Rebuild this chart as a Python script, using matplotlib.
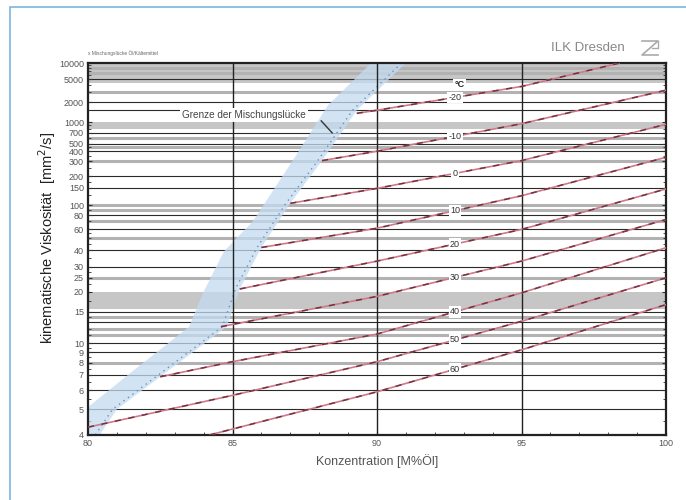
import numpy as np
import matplotlib.pyplot as plt
from matplotlib.patches import Rectangle
from matplotlib.lines import Line2D

plt.rcParams['font.family'] = ['Liberation Sans', 'DejaVu Sans']

# isothermen: konzentration [M% Oel] -> kin. viskositaet [mm2/s]
temps = [-20, -10, 0, 10, 20, 30, 40, 50, 60]
iso_conc = [
    [89.3, 90, 95, 98.4],
    [88.1, 90, 95, 100],
    [87.0, 90, 95, 100],
    [86.0, 90, 95, 100],
    [85.25, 90, 95, 100],
    [84.6, 90, 95, 100],
    [82.5, 85, 90, 95, 100],
    [80, 85, 90, 95, 100],
    [84.2, 90, 95, 100],
]
iso_visc = [
    [1350, 1505, 3700, 10000],
    [306, 400, 945, 3190],
    [104, 148, 306, 926],
    [42, 61, 124, 336],
    [20.9, 32.9, 59.5, 146],
    [12.3, 18.7, 32.9, 73],
    [6.87, 8.08, 11.2, 19.7, 41.8],
    [4.27, 5.7, 8.08, 13.2, 24.9],
    [4.0, 5.9, 9.25, 16.6],
]

# mischungsluecke (band)
gap_left_c = [80, 80, 81.3, 83.5, 84.0, 84.7, 85.7, 87.2, 88.3, 89.8]
gap_left_v = [4.0, 5.1, 6.87, 12.3, 20, 39, 70, 354, 1800, 10000]
gap_right_c = [91.0, 89.3, 88.1, 87.0, 86.0, 85.25, 84.8, 82.5, 81.0, 80.4]
gap_right_v = [10000, 1500, 306, 104, 42, 20.9, 12.3, 6.87, 5.0, 4.0]

yticks = [4, 5, 6, 7, 8, 9, 10, 15, 20, 25, 30, 40, 60, 80, 100, 150, 200,
          300, 400, 500, 700, 1000, 2000, 5000, 10000]
yminor = [4.5, 5.5, 6.5, 7.5, 8.5, 9.5, 11, 12, 13, 14, 17.5, 22.5, 27.5, 35,
          45, 50, 55, 70, 90, 125, 175, 250, 350, 450, 600, 800, 900, 1500,
          3000, 4000, 6000, 7000, 8000, 9000]
black_lines = [5000, 2000, 1500, 700, 500, 400, 200, 150, 80, 60, 40, 30,
               15, 13, 10, 9, 7, 6, 5]
gray_lines = [8000, 6500, 3000, 600, 450, 300, 100, 90, 70, 50, 25, 14, 12,
              11, 8]
gray_bands = [(4200, 10000), (800, 1000), (15.5, 20)]


def fwd(v):
    v = np.maximum(np.asarray(v, dtype=float), 0.6)
    return np.log10(np.log10(v + 0.5))


def inv(f):
    return 10 ** (10 ** np.asarray(f, dtype=float)) - 0.5


fig = plt.figure(figsize=(6.86, 5.0), dpi=100)
ax = fig.add_axes([88 / 686, 1 - 435 / 500, 578 / 686, 372 / 500])
ax.set_yscale('function', functions=(fwd, inv))
ax.set_xlim(80, 100)
ax.set_ylim(4, 10000)

for lo, hi in gray_bands:
    ax.axhspan(lo, hi, color='#c6c6c6', lw=0, zorder=0.5)
for v in gray_lines:
    ax.axhline(v, color='#b2b2b2', lw=2.2, zorder=1)
for v in black_lines:
    ax.axhline(v, color='#2a2a2a', lw=0.8, zorder=1.2)

# band
bx = gap_left_c + gap_right_c
by = gap_left_v + gap_right_v
ax.fill(bx, by, color='#c4dcf1', alpha=0.75, lw=0, zorder=2)
ax.plot(np.array(gap_right_c) - 0.15, gap_right_v, color='#6d8fb5', lw=1,
        ls=(0, (1, 3)), zorder=2.2)

for c in [85, 90, 95]:
    ax.axvline(c, color='#222222', lw=1.0, zorder=2.5)

# isothermen
lbl_c = 92.7
for t, cs, vs in zip(temps, iso_conc, iso_visc):
    ax.plot(cs, vs, color='#cf7a88', lw=1.2, zorder=3, solid_capstyle='butt')
    ax.plot(cs, vs, color='#5a2030', lw=1.1, ls=(0, (4, 5)), alpha=0.8,
            zorder=3.1)
    fv = np.interp(lbl_c, cs, fwd(vs))
    ax.text(lbl_c, inv(fv), '%d' % t, fontsize=6.5, color='#333333',
            ha='center', va='center', zorder=4,
            bbox=dict(boxstyle='square,pad=0.15', fc='white', ec='none'))
ax.text(lbl_c + 0.15, 3950, '°C', fontsize=6.5, color='#222222',
        ha='center', va='center', zorder=4, fontweight='bold',
        bbox=dict(boxstyle='square,pad=0.15', fc='white', ec='none'))

ax.text(85.4, 1260, 'Grenze der Mischungslücke', fontsize=7.2,
        color='#444444', ha='center', va='center', zorder=4,
        bbox=dict(boxstyle='square,pad=0.2', fc='white', ec='none'))
ax.plot([88.07, 88.45], [1040, 700], color='#333333', lw=1.0, zorder=3.5)

ax.set_yticks(yticks)
ax.set_yticklabels([str(v) for v in yticks])
ax.set_yticks(yminor, minor=True)
ax.set_yticklabels([], minor=True)
ax.set_xticks([80, 85, 90, 95, 100])
ax.set_xticks(np.arange(80, 101, 1), minor=True)
ax.tick_params(which='both', direction='in', right=True, top=False,
               labelsize=6.5, labelcolor='#555555', color='#333333')
ax.tick_params(which='major', length=3, pad=3)
ax.tick_params(which='minor', length=2.5)
for s in ax.spines.values():
    s.set_linewidth(1.6)
    s.set_color('#222222')

ax.set_xlabel('Konzentration [M%Öl]', fontsize=9, color='#555555',
              labelpad=4)
ax.set_ylabel('kinematische Viskosität  [mm$^2$/s]', fontsize=10.5,
              color='#222222')
ax.yaxis.set_label_coords(-0.052, 0.53)

fig.text(88 / 686, 1 - 53 / 500, 'x Mischungslücke Öl/Kältemittel',
         fontsize=3.5, color='#666666', va='center')
fig.text(588 / 686, 1 - 48 / 500, 'ILK Dresden', fontsize=9.5,
         color='#888888', ha='center', va='center')
# logo
lx = [642, 658, 642, 658]
ly = [41, 41, 55, 55]
fig.add_artist(Line2D([x / 686 for x in lx], [1 - y / 500 for y in ly],
                      color='#aaaaaa', lw=1.2))
fig.add_artist(Line2D([652 / 686, 658 / 686, 658 / 686],
                      [1 - 48 / 500, 1 - 48 / 500, 1 - 41 / 500],
                      color='#aaaaaa', lw=1.0))

# rahmen
fig.add_artist(Rectangle((9.5 / 686, -0.1), 1.2, 1 - 7 / 500 + 0.1,
                         transform=fig.transFigure, fill=False,
                         ec='#7ab6e2', lw=1.2))

fig.savefig('out.png', dpi=100)
